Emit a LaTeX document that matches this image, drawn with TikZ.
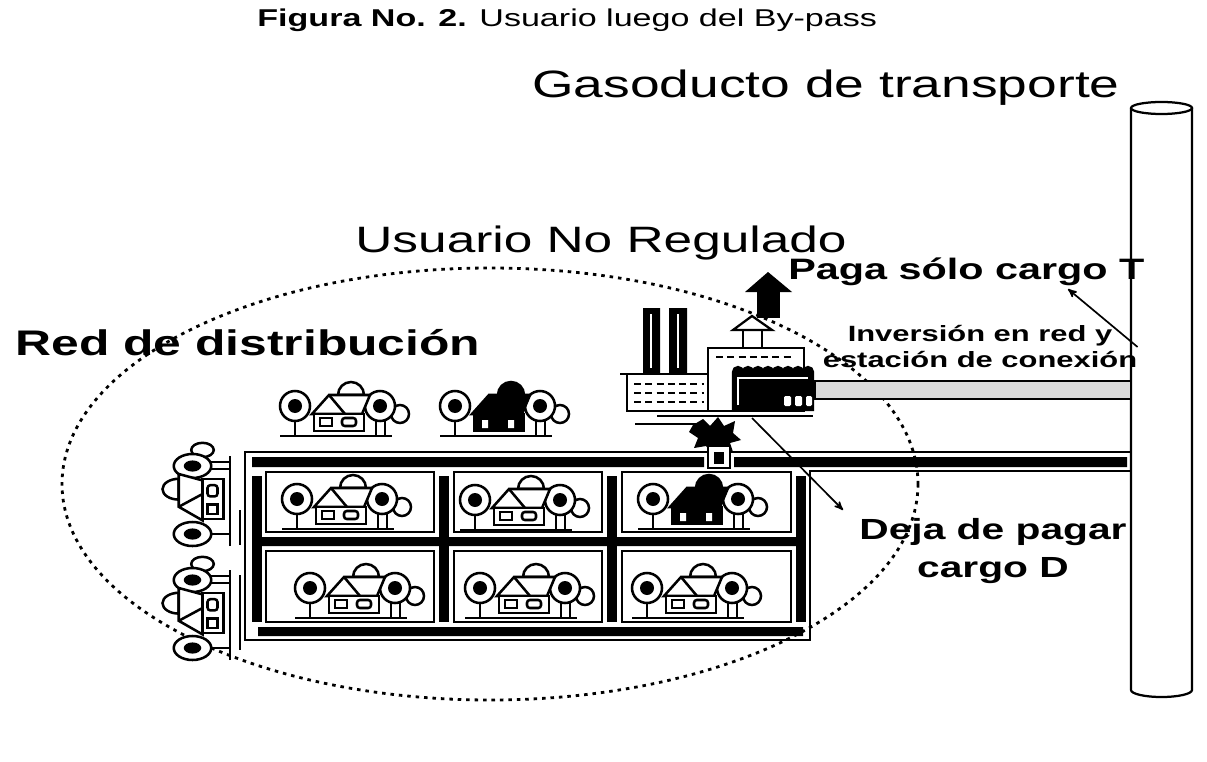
\documentclass[tikz,border=0pt]{standalone}
\usepackage{fontspec}
\setmainfont{Liberation Sans}
\usetikzlibrary{arrows}

\tikzset{
  trazo/.style={line width=1.6pt},
  flecha/.style={->, >=stealth', line width=1.2pt},
  rotulo/.style={inner sep=0pt, xscale=1.4, transform shape},
  punteado/.style={line width=2pt, dash pattern=on 2.5pt off 3.5pt},
  casa/.pic={
    \begin{scope}[line width=1.8pt]
    \filldraw[fill=white] (60,2) circle (9);
    \filldraw[fill=white] (-45,-6) circle (15);
    \filldraw[fill=white] (40,-6) circle (15);
    \fill (-45,-6) circle (7) (40,-6) circle (7);
    \draw (-45,9) -- (-45,24) (36,9) -- (36,24) (45,9) -- (45,24);
    \filldraw[fill=white] (-2,-17) arc[start angle=180, end angle=360, radius=13] -- cycle;
    \filldraw[fill=white] (-28,2) -- (-11,-17) -- (30,-17) -- (22,2) -- cycle;
    \draw (-11,-17) -- (5,2);
    \filldraw[fill=white] (-26,2) rectangle (24,19);
    \draw (-20,6) rectangle (-8,14);
    \draw[rounded corners=2pt] (2,6) rectangle (16,14);
    \draw (-60,24) -- (52,24);
    \end{scope}
  },
  casaoscura/.pic={
    \pic {casa};
    \fill (-28,2) -- (-11,-17) -- (30,-17) -- (22,2) -- cycle;
    \fill (-26,2) rectangle (24,19);
    \fill (-2,-17) arc[start angle=180, end angle=360, radius=13] -- cycle;
    \fill[white] (-18,8) rectangle (-12,16) (8,8) rectangle (14,16);
  },
}

\begin{document}
\begin{tikzpicture}[x=0.025cm, y=-0.025cm]
\useasboundingbox (0,0) rectangle (1207,761);

% rotulos
\node[rotulo, anchor=base west, font=\fontsize{17.3}{20}\selectfont] (titulo) at (257,27) {\textbf{Figura No. 2.} Usuario luego del By-pass};
\node[rotulo, anchor=base west, font=\fontsize{27.1}{30}\selectfont] (gasoducto) at (532,98) {Gasoducto de transporte};
\node[rotulo, anchor=base west, font=\fontsize{26.1}{30}\selectfont] (usuario) at (355,252) {Usuario No Regulado};
\node[rotulo, anchor=base west, font=\bfseries\fontsize{25.3}{30}\selectfont] (red) at (15,355) {Red de distribución};
\node[rotulo, anchor=base west, font=\bfseries\fontsize{21}{24}\selectfont] (paga) at (788,279) {Paga sólo cargo T};
\node[rotulo, align=center, font=\bfseries\fontsize{15.7}{18.5}\selectfont] (inversion) at (980,347) {Inversión en red y\\estación de conexión};
\node[rotulo, align=center, font=\bfseries\fontsize{20.7}{27}\selectfont] (deja) at (993,551) {Deja de pagar\\cargo D};

% limite de la red
\draw[punteado] (490,484) ellipse[x radius=428, y radius=216];

% gasoducto
\draw[trazo] (1161.5,108) ellipse[x radius=30.5, y radius=6];
\draw[trazo] (1131,108) -- (1131,690) arc[start angle=180, end angle=0, x radius=30.5, y radius=7] -- (1192,108);
\filldraw[trazo, fill=black!15] (815,381) rectangle (1131,399);

% red de distribucion
\draw[trazo] (1131,452) -- (245,452) -- (245,640) -- (810,640) -- (810,471) -- (1131,471);
\fill (252,457) rectangle (704,467) (734,457) rectangle (1127,467);
\foreach \x in {252,439,607,796} \fill (\x,476) rectangle +(10,146);
\fill (258,537) rectangle (803,546) (258,627) rectangle (803,636);
\foreach \xa/\xb in {266/434,454/602,622/791}
  \foreach \ya/\yb in {472/532,551/622}
    \draw[trazo] (\xa,\ya) rectangle (\xb,\yb);
\draw[trazo] (240,510) -- (240,545) (240,575) -- (240,650);

% usuarios
\pic at (340,412) {casa};
\pic at (500,412) {casaoscura};
\pic at (342,505) {casa};
\pic at (520,506) {casa};
\pic at (698,505) {casaoscura};
\pic at (355,594) {casa};
\pic at (525,594) {casa};
\pic at (692,594) {casa};
\pic[rotate=90, xscale=0.8, yscale=1.25] at (200,498) {casa};
\pic[rotate=90, xscale=0.8, yscale=1.25] at (200,612) {casa};

% usuario no regulado (fabrica)
\fill (643,308) rectangle (660,374) (669,308) rectangle (687,374);
\draw[white, line width=1pt] (651,314) -- (651,368) (678,314) -- (678,368);
\filldraw[trazo, fill=white] (627,374) rectangle (708,411);
\draw[trazo] (620,374) -- (708,374);
\foreach \y in {384,393,402}
  \draw[line width=1.6pt, dash pattern=on 5pt off 3pt] (634,\y) -- (704,\y);
\filldraw[trazo, fill=white] (708,348) rectangle (804,411);
\draw[line width=1.6pt, dash pattern=on 5pt off 3pt] (716,357) -- (792,357);
\filldraw[trazo] (733,410) -- (733,372) arc[start angle=180, end angle=360, radius=5]
  arc[start angle=180, end angle=360, radius=5] arc[start angle=180, end angle=360, radius=5]
  arc[start angle=180, end angle=360, radius=5] arc[start angle=180, end angle=360, radius=5]
  arc[start angle=180, end angle=360, radius=5] arc[start angle=180, end angle=360, radius=5]
  arc[start angle=180, end angle=360, radius=5] -- (813,410) -- cycle;
\draw[white, line width=1pt] (738,405) -- (738,378) -- (808,378);
\fill[white, rounded corners=1pt] (784,396) rectangle (791,406) (795,396) rectangle (802,406) (806,396) rectangle (812,406);
\filldraw[trazo, fill=white] (743,330) rectangle (762,348);
\filldraw[trazo, fill=white] (733,330) -- (752,316) -- (772,330) -- cycle;
\fill (757,290) rectangle (780,318);
\fill (745,292) -- (768,272) -- (792,292) -- cycle;
\draw[trazo] (657,416) -- (813,416) (635,424) -- (707,424);
\fill (693,425) -- (703,419) -- (710,426) -- (718,417) -- (724,426) -- (735,421) -- (733,433)
  -- (741,440) -- (730,443) -- (733,452) -- (720,447) -- (712,453) -- (706,446)
  -- (694,448) -- (698,438) -- (689,432) -- cycle;
\filldraw[trazo, fill=white] (708,446) rectangle (730,468);
\fill (714,452) rectangle (724,464);

% flechas
\coordinate (baseFab) at (752,418);
\coordinate (puntaD) at (843,510);
\coordinate (puntaT) at (1068,289);
\draw[flecha] (baseFab) -- (puntaD);
\draw[flecha] (inversion.east) -- (puntaT);

\end{tikzpicture}
\end{document}
